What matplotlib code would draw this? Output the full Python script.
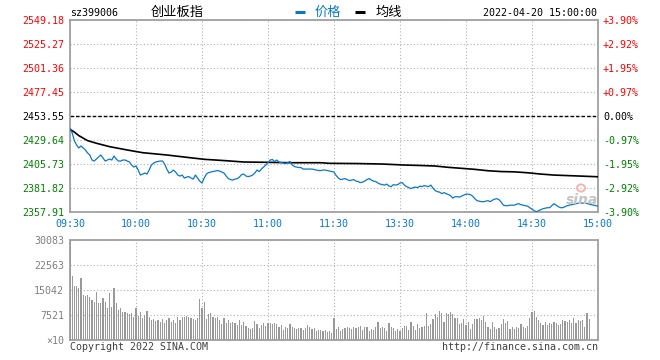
import matplotlib
matplotlib.use("Agg")
import matplotlib.pyplot as plt
from matplotlib.patches import Ellipse
import numpy as np

# ---------------- data ----------------
prev_close = 2453.55
price_ticks = [2357.91, 2381.82, 2405.73, 2429.64, 2453.55, 2477.45, 2501.36, 2525.27, 2549.18]
time_labels = ['09:30', '10:00', '10:30', '11:00', '11:30', '13:30', '14:00', '14:30', '15:00']
vol_ticks = [0, 7521, 15042, 22563, 30083]
vol_tick_labels = ['×10', '7521', '15042', '22563', '30083']

price = [
    2440.7, 2436.7, 2428.7, 2424.7, 2421.7, 2423.7, 2421.7, 2419.7, 2416.7, 2414.7,
    2409.7, 2408.7, 2410.7, 2412.7, 2414.7, 2411.7, 2408.7, 2409.7, 2410.7, 2409.7,
    2413.7, 2410.7, 2408.7, 2408.7, 2409.7, 2409.7, 2408.7, 2407.7, 2404.7, 2402.7,
    2403.7, 2399.7, 2394.7, 2395.7, 2396.7, 2395.7, 2399.7, 2404.7, 2406.7, 2407.7,
    2408.2, 2408.7, 2408.7, 2405.7, 2400.7, 2396.7, 2397.7, 2399.7, 2397.7, 2394.7,
    2393.7, 2394.7, 2391.7, 2392.7, 2393.2, 2391.7, 2390.7, 2394.7, 2391.7, 2388.7,
    2386.7, 2391.7, 2395.7, 2397.2, 2397.7, 2398.2, 2398.7, 2399.2, 2398.7, 2397.7,
    2396.7, 2393.7, 2391.2, 2390.2, 2389.7, 2390.7, 2391.2, 2392.7, 2395.2, 2395.7,
    2393.7, 2393.2, 2393.7, 2394.7, 2396.7, 2399.7, 2398.2, 2400.7, 2402.7, 2404.7,
    2407.2, 2409.7, 2410.2, 2408.2, 2409.7, 2407.7, 2407.2, 2406.7, 2406.2, 2407.2,
    2408.2, 2404.7, 2403.2, 2402.7, 2402.2, 2402.2, 2400.7, 2400.7, 2400.7, 2400.7,
    2400.7, 2400.2, 2399.7, 2399.2, 2399.2, 2399.7, 2399.7, 2399.2, 2398.7, 2398.2,
    2397.7, 2394.2, 2391.7, 2390.2, 2390.7, 2391.2, 2390.2, 2389.2, 2389.7, 2390.2,
    2388.7, 2388.2, 2387.2, 2387.7, 2388.7, 2390.2, 2391.2, 2389.7, 2388.7, 2388.2,
    2386.7, 2385.7, 2385.2, 2384.7, 2385.7, 2383.7, 2383.2, 2385.2, 2384.7, 2385.2,
    2386.7, 2387.2, 2384.7, 2383.2, 2382.2, 2381.2, 2382.2, 2382.7, 2382.2, 2383.7,
    2383.2, 2384.2, 2383.7, 2383.2, 2384.7, 2381.7, 2379.2, 2378.2, 2377.7, 2376.2,
    2377.2, 2376.2, 2375.2, 2374.2, 2371.7, 2373.2, 2373.2, 2372.7, 2373.7, 2374.7,
    2375.7, 2375.7, 2375.2, 2373.7, 2371.2, 2369.2, 2368.7, 2368.2, 2368.2, 2368.7,
    2369.2, 2368.2, 2369.7, 2370.7, 2371.2, 2370.2, 2367.7, 2364.7, 2364.2, 2364.2,
    2364.7, 2364.7, 2364.7, 2365.7, 2366.2, 2365.2, 2364.7, 2364.2, 2363.7, 2362.2,
    2360.7, 2359.2, 2358.2, 2359.2, 2360.2, 2361.2, 2361.7, 2362.2, 2362.2, 2364.2,
    2366.2, 2364.7, 2363.2, 2362.2, 2362.2, 2363.2, 2364.2, 2364.7, 2365.2, 2365.7,
    2366.2, 2366.7, 2367.0, 2366.7, 2366.7, 2366.4, 2365.7, 2365.2, 2364.7, 2364.2,
    2363.7,
]

avg_minutes = [0, 2, 4, 8, 12, 18, 26, 33, 44, 53, 61, 71, 79, 90, 100, 114, 118,
               130, 142, 152, 160, 166, 172, 178, 184, 190, 196, 202, 208, 214,
               220, 226, 232, 240]
avg_price = [2440.3, 2437.5, 2434.0, 2429.0, 2426.4, 2423.0, 2419.7, 2417.0, 2414.7,
             2412.4, 2410.4, 2409.0, 2407.7, 2407.4, 2407.0, 2407.0, 2406.4, 2406.2,
             2405.7, 2404.7, 2404.2, 2403.7, 2402.4, 2401.4, 2400.4, 2399.0, 2398.2,
             2397.9, 2397.0, 2395.7, 2394.7, 2394.2, 2393.7, 2393.0]

volume = [
    30083,
    19354, 16345, 16345, 15543, 18652, 13638, 13237, 13538, 12836, 12034,
    11533, 14541, 11231, 11231, 12535, 11533, 9526, 14039, 10028, 15745,
    11231, 9025, 9526, 8524, 8524, 8022, 7721, 8022, 7019, 9727,
    7220, 8524, 6518, 7521, 8724, 7019, 6017, 6217, 5716,
    6017, 5516, 6217, 5215, 6017, 6518, 5516, 6017, 5014, 7019,
    6017, 7019, 7019, 7320, 7019, 6518, 6217, 6117, 6719, 12334,
    9526, 11432, 6217, 7822, 8022, 7019, 6518, 7019, 6017, 4813,
    6518, 5215, 6017, 5014, 5516, 5014, 4513, 6017, 4513, 5516, 4212,
    3510, 3209, 3510, 5716, 4813, 3510, 4513, 5014, 4212, 5215,
    5014, 4813, 5014, 4813, 4011, 4513, 3008, 3811, 3510, 4813,
    3811, 3510, 3209, 3510, 3510, 3008, 3510, 4513, 4011, 3209,
    3510, 2808, 3008, 3008, 2808, 3008, 2507, 2808, 2206,
    6518,
    3209, 3811, 2808, 3209, 3510, 4011, 3510, 3209, 3811, 3510,
    4011, 4212, 3008, 3811, 4011, 2808, 3209, 3008, 4011, 5516,
    3510, 3811, 3510, 2808, 5014, 4011, 3510, 2808, 3209, 2808,
    3510, 4212, 4212, 3008, 5315, 4212, 3008, 4813, 3510,
    3811, 4212, 8022, 4212, 4813, 6217, 7822, 7019, 8724, 8223,
    5516, 8022, 7822, 8424, 7822, 6518, 6518, 4813, 5014, 6217,
    4513, 5315, 3209, 4813, 6217, 6217, 6518, 6017, 7220, 5516,
    3811, 3209, 5516, 4011, 3209, 3510, 4813, 6217, 5215, 5816, 3209,
    3811, 3209, 3811, 3510, 4813, 4011, 3510, 4212, 6518, 8524,
    8824, 7019, 6017, 5215, 4513, 5516, 4513, 5014, 4813, 5516,
    5014, 4513, 4813, 6017, 5816, 5516, 6017, 5215, 6518, 5215,
    6017, 5816, 6017, 4011, 8223, 6217, 300, 0, 0, 0,
]

# ---------------- style ----------------
W, H = 660, 360
MONO = 'DejaVu Sans Mono'
CJK = ['Noto Sans CJK SC', 'DejaVu Sans']
FS = 7.2
RED, GREEN, BLUE = '#ff0000', '#008000', '#0a78c8'
GRID = '#b0b0b0'
SPINE = '#a0a0a0'

def fx(px):
    return px / W

def fy(py):
    return 1 - py / H

fig = plt.figure(figsize=(W / 100, H / 100), dpi=100)
fig.patch.set_facecolor('white')

x = np.arange(len(price))
xt = np.arange(0, len(price), 30)

# ---------------- price panel ----------------
ax = fig.add_axes([fx(70), fy(212), fx(528), 192 / H])
ax.set_xlim(0, len(price) - 1)
ax.set_ylim(price_ticks[0], price_ticks[-1])
ax.set_yticks(price_ticks)
ax.set_yticklabels([f'{v:.2f}' for v in price_ticks], family=MONO, fontsize=FS)
for lbl, v in zip(ax.get_yticklabels(), price_ticks):
    lbl.set_color(RED if v > prev_close else (GREEN if v < prev_close else 'black'))
ax.set_xticks(xt)
ax.set_xticklabels(time_labels, family=MONO, fontsize=FS, color=BLUE)
ax.tick_params(length=0, pad=4.3)
ax.tick_params(axis='x', pad=5.0)
ax.grid(True, color=GRID, linestyle=(0, (1, 2)), linewidth=0.8)
ax.axhline(prev_close, color='black', linestyle=(0, (2.5, 1.5)), linewidth=1.0, zorder=2)
for s in ax.spines.values():
    s.set_color(SPINE)
    s.set_linewidth(1.3)

ax.plot(avg_minutes, avg_price, color='black', linewidth=1.2, zorder=3)
ax.plot(x, price, color=BLUE, linewidth=0.9, zorder=4)

ax2 = ax.twinx()
ax2.set_ylim(price_ticks[0], price_ticks[-1])
ax2.set_yticks(price_ticks)
pct = [(v / prev_close - 1) * 100 for v in price_ticks]
ax2.set_yticklabels([('0.00%' if abs(p) < 0.005 else f'{p:+.2f}%') for p in pct],
                    family=MONO, fontsize=FS)
for lbl, p in zip(ax2.get_yticklabels(), pct):
    lbl.set_color(RED if p > 0.005 else (GREEN if p < -0.005 else 'black'))
ax2.tick_params(length=0, pad=3.6)
for s in ax2.spines.values():
    s.set_visible(False)

# ---------------- volume panel ----------------
axv = fig.add_axes([fx(70), fy(340), fx(528), 100 / H])
axv.set_xlim(0, len(price) - 1)
axv.set_ylim(0, vol_ticks[-1])
axv.bar(x, volume, width=0.5, color='#999999', linewidth=0, zorder=3)
axv.set_yticks(vol_ticks)
axv.set_yticklabels(vol_tick_labels, family=MONO, fontsize=FS, color='#808080')
axv.set_xticks(xt)
axv.set_xticklabels([])
axv.tick_params(length=0, pad=4.3)
axv.grid(True, color=GRID, linestyle=(0, (1, 2)), linewidth=0.8, zorder=1)
for s in axv.spines.values():
    s.set_color(SPINE)
    s.set_linewidth(1.3)

# ---------------- header ----------------
fig.text(fx(70), fy(13), 'sz399006', family=MONO, fontsize=FS, color='black', va='center', ha='left')
fig.text(fx(151), fy(12.5), '创业板指', family=CJK, fontsize=9.5, color='black', va='center', ha='left')
fig.lines.append(plt.Line2D([fx(295), fx(305)], [fy(12), fy(12)], transform=fig.transFigure,
                            color=BLUE, linewidth=2.2, solid_capstyle='butt'))
fig.text(fx(315), fy(12.5), '价格', family=CJK, fontsize=9.5, color=BLUE, va='center', ha='left')
fig.lines.append(plt.Line2D([fx(355), fx(365)], [fy(12), fy(12)], transform=fig.transFigure,
                            color='black', linewidth=2.2, solid_capstyle='butt'))
fig.text(fx(376), fy(12.5), '均线', family=CJK, fontsize=9.5, color='black', va='center', ha='left')
fig.text(fx(597), fy(13), '2022-04-20 15:00:00', family=MONO, fontsize=FS, color='black',
         va='center', ha='right')

# ---------------- footer ----------------
fig.text(fx(70), fy(346.5), 'Copyright 2022 SINA.COM', family=MONO, fontsize=FS, color='#404040',
         va='center', ha='left')
fig.text(fx(598), fy(346.5), 'http://finance.sina.com.cn', family=MONO, fontsize=FS, color='#404040',
         va='center', ha='right')

# watermark
fig.patches.append(Ellipse((fx(581), fy(188)), fx(8), 7 / H, transform=fig.transFigure,
                           facecolor='none', edgecolor='#f2b8b8', linewidth=1.5))
fig.text(fx(582), fy(200), 'sina', fontsize=10, fontweight='bold', style='italic',
         color='#c4c4c4', va='center', ha='center', family='DejaVu Sans')

fig.savefig('out.png', dpi=100, facecolor='white')
